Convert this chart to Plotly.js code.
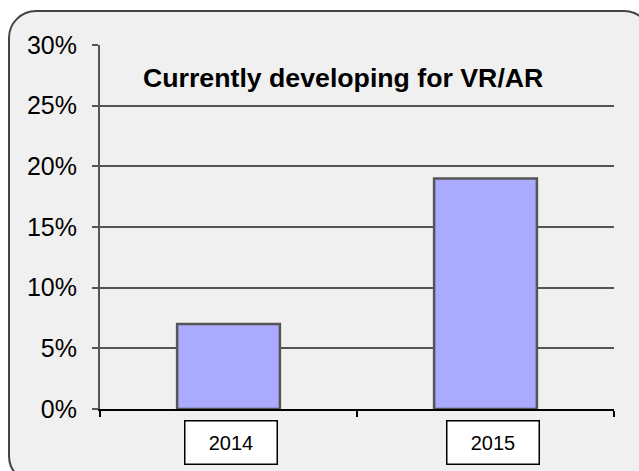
<!DOCTYPE html>
<html>
<head>
<meta charset="utf-8">
<script src="https://cdn.plot.ly/plotly-3.0.1.min.js"></script>
<style>
  html, body { margin: 0; padding: 0; background: #fff; overflow: hidden; }
  #frame {
    position: absolute; left: 8px; top: 10px; width: 640px; height: 470px;
    background: #f0f0f0; border: 2px solid #444; border-radius: 28px;
  }
  #graf { position: absolute; left: 0; top: 0; width: 639px; height: 471px; }
</style>
</head>
<body>
<div id="frame"></div>
<div id="graf"></div>
<script>
// data
var years = ["2014", "2015"];
var developing = [7, 19];   // percent
var yTicks = [0, 5, 10, 15, 20, 25, 30];
var chartTitle = "Currently developing for VR/AR";

function graficos() {
    var espacio = document.getElementById("graf");
    var fuente = "Liberation Sans, Arial, Helvetica, sans-serif";

    var trace1 = {
        type: 'bar',
        x: years,
        y: developing,
        marker: {
            color: '#aaaaff',
            line: { color: '#555555', width: 2.5 }
        },
        hoverinfo: 'none'
    };

    // year labels in little white boxes under the axis
    var shifts = [2, 7];
    var notas = years.map(function (yr, i) {
        return {
            text: yr, x: i, xref: 'x', y: -0.03, yref: 'paper',
            yanchor: 'top', xanchor: 'center', xshift: shifts[i],
            showarrow: false, bgcolor: '#ffffff',
            bordercolor: '#000000', borderwidth: 1.5, borderpad: 2,
            width: 87, height: 38,
            font: { family: fuente, size: 20, color: '#000' }
        };
    });
    notas.push({
        text: '<b>' + chartTitle + '</b>', x: 0.472, xref: 'paper',
        y: 0.91, yref: 'paper', xanchor: 'center', yanchor: 'middle',
        showarrow: false, font: { family: fuente, size: 26.7, color: '#000' }
    });

    var layout = {
        width: 639, height: 471,
        margin: { l: 100, r: 25, t: 45, b: 62 },
        paper_bgcolor: 'rgba(0,0,0,0)',
        plot_bgcolor: 'rgba(0,0,0,0)',
        showlegend: false,
        bargap: 0.6,
        font: { family: fuente, color: '#000' },
        xaxis: {
            type: 'category',
            range: [-0.5, 1.5],
            showticklabels: false,
            showgrid: false,
            showline: true, linecolor: '#000', linewidth: 2,
            ticks: 'outside', tickson: 'boundaries',
            ticklen: 6, tickwidth: 2, tickcolor: '#000',
            fixedrange: true
        },
        yaxis: {
            range: [0, 30],
            tickmode: 'array',
            tickvals: yTicks,
            ticktext: yTicks.map(function (v) { return v + '%'; }),
            showgrid: true, gridcolor: '#555555', gridwidth: 2,
            zeroline: false,
            showline: true, linecolor: '#555555', linewidth: 2,
            ticks: 'outside', ticklen: 6, tickwidth: 2, tickcolor: '#555555',
            ticklabelstandoff: 10,
            tickfont: { family: fuente, size: 25, color: '#000' },
            fixedrange: true
        },
        annotations: notas
    };

    Plotly.newPlot(espacio, [trace1], layout, { staticPlot: true });
}
graficos();
</script>
</body>
</html>
